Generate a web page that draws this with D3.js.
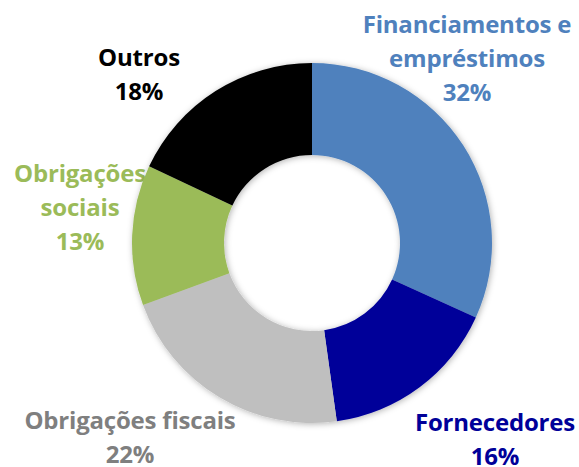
<!doctype html>
<html lang="pt">
<head>
<meta charset="utf-8" />
<title>donut</title>
<script src="https://d3js.org/d3.v7.min.js"></script>
<style type="text/css">
  html, body { margin: 0; padding: 0; background: #fff; }
  #chart { width: 579px; height: 467px; }
  .lbl { font-family: "Open Sans", Lato, sans-serif; font-weight: 700; font-size: 24px; letter-spacing: -0.2px; }
</style>
</head>
<body>
<div id="chart"></div>
<script>
// data (clockwise from 12 o'clock)
var categories = ["Financiamentos e empréstimos", "Fornecedores", "Obrigações fiscais", "Obrigações sociais", "Outros"];
var values = [31.8, 16.0, 21.6, 12.6, 18.0];
// how each category label is broken into lines
var labelLines = [["Financiamentos e", "empréstimos"], ["Fornecedores"], ["Obrigações fiscais"], ["Obrigações", "sociais"], ["Outros"]];

var sliceColours = ["#4F81BD", "#000099", "#BFBFBF", "#9BBB59", "#000000"];
var textColours = ["#4F81BD", "#000099", "#7F7F7F", "#9BBB59", "#000000"];
// label anchor: centre x, first baseline y
var labelPos = [[467, 33], [495, 431], [130, 429], [80, 182], [139, 66]];

var width = 579, height = 467;
var cx = 312, cy = 243;
var outerR = 180, innerR = 88;
var lineH = 34;

var svg = d3.select("#chart").append("svg")
  .attr("width", width)
  .attr("height", height);

// soft shadow round the ring
var defs = svg.append("defs");
var f = defs.append("filter").attr("id", "shadow")
  .attr("x", "-20%").attr("y", "-20%").attr("width", "140%").attr("height", "140%");
f.append("feDropShadow")
  .attr("dx", 1).attr("dy", 1)
  .attr("stdDeviation", 3)
  .attr("flood-color", "#000")
  .attr("flood-opacity", 0.3);

var total = d3.sum(values);

// labels first, the ring sits on top of them (the green one is partly hidden)
var labels = svg.append("g").selectAll("text")
  .data(values)
  .enter()
  .append("text")
    .attr("class", "lbl")
    .attr("text-anchor", "middle")
    .attr("fill", function(d, i) { return textColours[i]; });

labels.each(function(d, i) {
  var t = d3.select(this);
  var lines = labelLines[i].concat([Math.round(d / total * 100) + "%"]);
  lines.forEach(function(s, k) {
    t.append("tspan")
      .attr("x", labelPos[i][0])
      .attr("y", labelPos[i][1] + k * lineH)
      .text(s);
  });
});

var pie = d3.pie().sort(null).value(function(d) { return d; });
var arc = d3.arc().innerRadius(innerR).outerRadius(outerR);

svg.append("g")
  .attr("transform", "translate(" + cx + "," + cy + ")")
  .attr("filter", "url(#shadow)")
  .selectAll("path")
  .data(pie(values))
  .enter()
  .append("path")
    .attr("d", arc)
    .attr("fill", function(d, i) { return sliceColours[i]; });
</script>
</body>
</html>
